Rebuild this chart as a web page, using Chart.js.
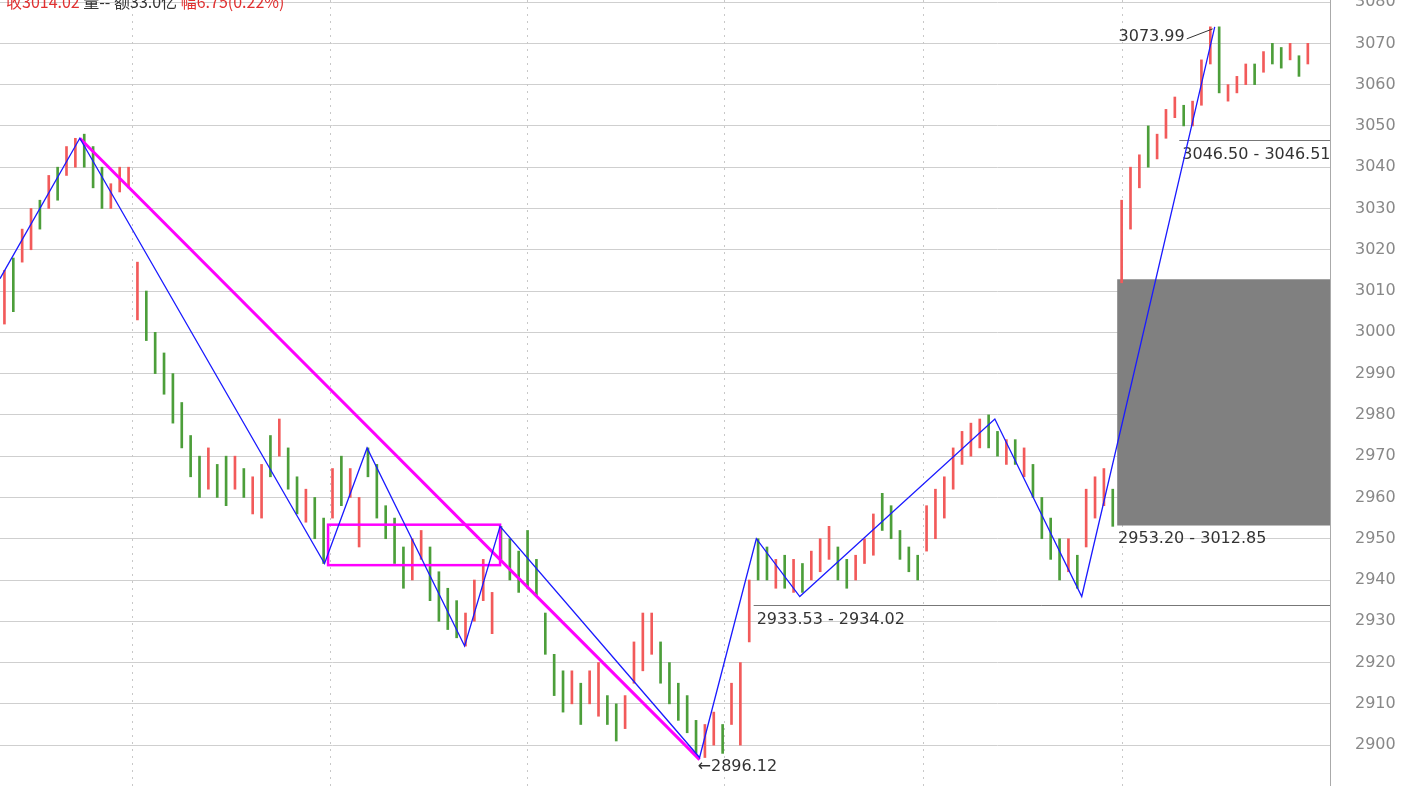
<!DOCTYPE html>
<html>
<head>
<meta charset="utf-8">
<script src="https://cdn.jsdelivr.net/npm/chart.js@4"></script>
<style>
  html, body { margin: 0; padding: 0; background: #fff; }
  #wrap { position: relative; width: 1413px; height: 786px; }
</style>
</head>
<body>
<div id="wrap"><canvas id="kChart"></canvas></div>
<script>
// bar lows / highs (index = bar number), up: 1 = red (up), 0 = green (down)
const lows = [3002,3005,3017,3020,3025,3030,3032,3038,3040,3040,3035,3030,3030,3034,3035,
  3003,2998,2990,2985,2978,2972,2965,2960,2962,2960,2958,2962,2960,2956,2955,
  2965,2970,2962,2956,2954,2950,2944,2955,2958,2960,2948,2965,2955,2950,2944,
  2938,2940,2945,2935,2930,2928,2926,2924,2930,2935,2927,2945,2940,2937,2938,
  2936,2922,2912,2908,2910,2905,2910,2907,2905,2901,2904,2915,2918,2922,2915,
  2910,2906,2903,2898,2897,2900,2898,2905,2900,2925,2940,2940,2938,2938,2937,
  2937,2940,2942,2945,2940,2938,2940,2944,2946,2952,2950,2945,2942,2940,2947,
  2950,2955,2962,2968,2970,2972,2972,2970,2968,2968,2965,2960,2950,2945,2940,
  2942,2938,2948,2955,2958,2953,3012,3025,3035,3040,3042,3047,3052,3050,3050,
  3055,3065,3058,3056,3058,3060,3060,3063,3065,3064,3066,3062,3065];
const highs = [3015,3018,3025,3030,3032,3038,3040,3045,3047,3048,3045,3040,3036,3040,3040,
  3017,3010,3000,2995,2990,2983,2975,2970,2972,2968,2970,2970,2967,2965,2968,
  2975,2979,2972,2965,2962,2960,2955,2967,2970,2967,2960,2972,2968,2958,2955,
  2948,2950,2952,2948,2942,2938,2935,2932,2940,2945,2937,2953,2950,2947,2952,
  2945,2932,2922,2918,2918,2915,2918,2920,2912,2910,2912,2925,2932,2932,2925,
  2920,2915,2912,2906,2905,2908,2905,2915,2920,2940,2950,2948,2945,2946,2945,
  2944,2947,2950,2953,2948,2945,2946,2950,2956,2961,2958,2952,2948,2946,2958,
  2962,2965,2972,2976,2978,2979,2980,2976,2974,2974,2972,2968,2960,2955,2950,
  2950,2946,2962,2965,2967,2962,3032,3040,3043,3050,3048,3054,3057,3055,3056,
  3066,3074,3074,3060,3062,3065,3065,3068,3070,3069,3070,3067,3070];
const up = [1,0,1,1,0,1,0,1,1,0,0,0,1,1,1,
  1,0,0,0,0,0,0,0,1,0,0,1,0,1,1,
  0,1,0,0,1,0,0,1,0,1,1,0,0,0,0,
  0,1,1,0,0,0,0,1,1,1,1,0,0,0,0,
  0,0,0,0,1,0,1,1,0,0,1,1,1,1,0,
  0,0,0,0,1,1,0,1,1,1,0,0,1,0,1,
  0,1,1,1,0,0,1,1,1,0,0,0,0,0,1,
  1,1,1,1,1,1,0,0,1,0,1,0,0,0,0,
  1,0,1,1,1,0,1,1,1,0,1,1,1,0,1,
  1,1,0,1,1,1,0,1,0,0,1,0,1];

// blue zigzag turning points [bar index, price]
const zigzag = [[-0.5,3013],[8.5,3047],[36.1,2944],[40.9,2972],[51.9,2924],[55.9,2953],
  [78.4,2897],[84.8,2950],[89.7,2936],[111.7,2979],[121.5,2936],[136.5,3074]];
const trendLine = [[8.5,3047],[78.4,2896.5]];
const boxRange = [[36.5,55.9],[2943.6,2953.4]];
const grayZone = [[125.5,149.5],[2953.20,3012.85]];
const levelLines = [[84.5,2934.0,'2933.53 - 2934.02'],[132.5,3046.5,'3046.50 - 3046.51']];
const dividers = [14.4,36.7,58.9,81.2,103.6,126];
const yTicks = [2900,2910,2920,2930,2940,2950,2960,2970,2980,2990,3000,3010,3020,3030,3040,3050,3060,3070,3080];

const red = '#f25a5a', green = '#4c9e3a';

const overlay = {
  id: 'overlay',
  beforeDatasetsDraw(c) {
    const { ctx, scales: { x, y }, chartArea: a } = c;
    ctx.save();
    ctx.strokeStyle = '#c8c8c8';
    ctx.setLineDash([2, 5]);
    ctx.lineWidth = 1;
    dividers.forEach(d => {
      const px = Math.round(x.getPixelForValue(d)) + 0.5;
      ctx.beginPath(); ctx.moveTo(px, a.top); ctx.lineTo(px, a.bottom); ctx.stroke();
    });
    ctx.setLineDash([]);
    // gray zone
    ctx.fillStyle = '#808080';
    const gx0 = x.getPixelForValue(grayZone[0][0]), gx1 = x.getPixelForValue(grayZone[0][1]);
    const gy0 = y.getPixelForValue(grayZone[1][1]), gy1 = y.getPixelForValue(grayZone[1][0]);
    ctx.fillRect(gx0, gy0, gx1 - gx0, gy1 - gy0);
    ctx.restore();
  },
  afterDatasetsDraw(c) {
    const { ctx, scales: { x, y }, chartArea: a } = c;
    const P = p => [x.getPixelForValue(p[0]), y.getPixelForValue(p[1])];
    ctx.save();
    // right axis line + tick labels
    ctx.strokeStyle = '#aaa';
    ctx.lineWidth = 1;
    ctx.beginPath(); ctx.moveTo(a.right + 0.5, 0); ctx.lineTo(a.right + 0.5, c.height); ctx.stroke();
    ctx.font = '16px "DejaVu Sans"';
    ctx.fillStyle = '#888';
    ctx.textBaseline = 'middle';
    yTicks.forEach(v => ctx.fillText(String(v), a.right + 25, y.getPixelForValue(v)));
    // level lines + labels
    ctx.strokeStyle = '#777';
    ctx.fillStyle = '#333';
    levelLines.forEach(l => {
      const [px, py] = P(l);
      const yy = Math.round(py) + 0.5;
      ctx.beginPath(); ctx.moveTo(px, yy); ctx.lineTo(a.right, yy); ctx.stroke();
      ctx.textBaseline = 'top';
      ctx.fillText(l[2], px + 3, yy + 6);
    });
    ctx.fillText('2953.20 - 3012.85', x.getPixelForValue(125.6), y.getPixelForValue(grayZone[1][0]) + 5);
    // magenta trend + box
    ctx.strokeStyle = '#ff00ff';
    ctx.lineWidth = 3;
    let [ax, ay] = P(trendLine[0]), [bx, by] = P(trendLine[1]);
    ctx.beginPath(); ctx.moveTo(ax, ay); ctx.lineTo(bx, by); ctx.stroke();
    const rx0 = x.getPixelForValue(boxRange[0][0]), rx1 = x.getPixelForValue(boxRange[0][1]);
    const ry0 = y.getPixelForValue(boxRange[1][1]), ry1 = y.getPixelForValue(boxRange[1][0]);
    ctx.lineWidth = 2.5;
    ctx.strokeRect(rx0, ry0, rx1 - rx0, ry1 - ry0);
    // blue zigzag
    ctx.strokeStyle = '#1a1aff';
    ctx.lineWidth = 1.3;
    ctx.beginPath();
    zigzag.forEach((p, i) => { const [px, py] = P(p); i ? ctx.lineTo(px, py) : ctx.moveTo(px, py); });
    ctx.stroke();
    // peak / trough labels
    ctx.fillStyle = '#333';
    const [hx, hy] = P([136.5, 3073.99]);
    ctx.textBaseline = 'middle';
    ctx.textAlign = 'right';
    ctx.fillText('3073.99', hx - 30, hy + 10);
    ctx.strokeStyle = '#333'; ctx.lineWidth = 1;
    ctx.beginPath(); ctx.moveTo(hx - 28, hy + 12); ctx.lineTo(hx - 2, hy + 2); ctx.stroke();
    const [lx, ly] = P([78.4, 2896.12]);
    ctx.textAlign = 'left';
    ctx.fillText('←2896.12', lx - 2, ly + 6);
    // header
    ctx.textBaseline = 'top';
    ctx.font = '16px "Noto Sans CJK SC"';
    let tx = 6;
    [['收', '#e03030'], ['3014.02', '#e03030'], [' 量--', '#333'], [' 额', '#333'], ['33.0亿', '#333'],
     [' 幅', '#e03030'], ['6.75(0.22%)', '#e03030']].forEach(([t, col]) => {
      ctx.fillStyle = col; ctx.fillText(t, tx, -6); tx += ctx.measureText(t).width;
    });
    ctx.restore();
  }
};

new Chart(document.getElementById('kChart'), {
  type: 'bar',
  data: {
    datasets: [{
      data: lows.map((lo, i) => ({ x: i, y: [lo, highs[i]] })),
      backgroundColor: up.map(u => u ? red : green),
      barThickness: 2,
      borderSkipped: false
    }]
  },
  options: {
    responsive: true,
    maintainAspectRatio: false,
    animation: false,
    layout: { padding: 0 },
    plugins: { legend: { display: false }, tooltip: { enabled: false } },
    scales: {
      x: { type: 'linear', min: -0.5, max: 149.5, display: false, offset: false },
      y: {
        position: 'right',
        min: 2890.1, max: 3080.5,
        afterFit: s => { s.width = 83; },
        afterBuildTicks: s => { s.ticks = yTicks.map(v => ({ value: v })); },
        grid: { color: '#cfcfcf', borderDash: [2, 5], drawTicks: false },
        border: { display: false },
        ticks: { display: false }
      }
    }
  },
  plugins: [overlay]
});
</script>
</body>
</html>
